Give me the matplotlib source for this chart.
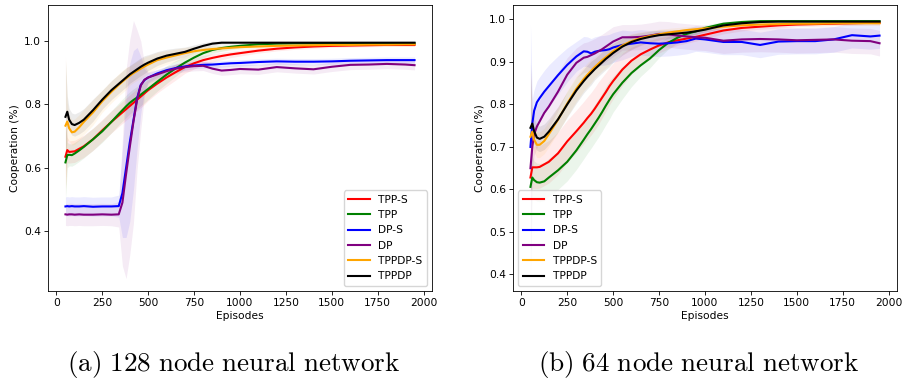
import matplotlib
matplotlib.use("Agg")
import matplotlib.pyplot as plt
import numpy as np

plt.rcParams['mathtext.fontset'] = 'cm'

episodes = [50, 60, 70, 85, 100, 125, 150, 200, 250, 300, 340, 360, 380, 400, 420, 440, 460, 480,
            500, 550, 600, 650, 700, 750, 800, 850, 900, 950, 1000, 1100, 1200, 1300, 1400, 1500,
            1600, 1700, 1800, 1900, 1950]

labels = ["TPP-S", "TPP", "DP-S", "DP", "TPPDP-S", "TPPDP"]
colors = ["red", "green", "blue", "purple", "orange", "black"]

# ---- (a) 128 node network: means ----
a_tpps = [0.635, 0.656, 0.650, 0.651, 0.652, 0.660, 0.668, 0.690, 0.718, 0.745, 0.765, 0.775, 0.785,
          0.795, 0.805, 0.815, 0.825, 0.835, 0.845, 0.866, 0.885, 0.902, 0.918, 0.930, 0.940, 0.947,
          0.953, 0.958, 0.962, 0.970, 0.976, 0.980, 0.983, 0.985, 0.986, 0.987, 0.988, 0.988, 0.988]
a_tpp = [0.617, 0.640, 0.641, 0.640, 0.645, 0.655, 0.666, 0.690, 0.715, 0.745, 0.770, 0.782, 0.794,
         0.805, 0.814, 0.822, 0.831, 0.840, 0.849, 0.872, 0.894, 0.914, 0.932, 0.948, 0.962, 0.972,
         0.978, 0.982, 0.985, 0.990, 0.992, 0.993, 0.993, 0.993, 0.993, 0.993, 0.993, 0.993, 0.993]
a_dps = [0.478, 0.479, 0.478, 0.479, 0.478, 0.478, 0.479, 0.477, 0.478, 0.478, 0.479, 0.520, 0.600,
         0.680, 0.750, 0.820, 0.862, 0.877, 0.885, 0.898, 0.908, 0.915, 0.920, 0.923, 0.925, 0.926,
         0.928, 0.930, 0.931, 0.934, 0.936, 0.935, 0.935, 0.936, 0.938, 0.939, 0.940, 0.940, 0.940]
a_dp = [0.453, 0.452, 0.453, 0.453, 0.452, 0.453, 0.452, 0.452, 0.453, 0.452, 0.453, 0.490, 0.580,
        0.665, 0.745, 0.815, 0.860, 0.878, 0.885, 0.895, 0.905, 0.913, 0.918, 0.921, 0.922, 0.913,
        0.907, 0.909, 0.912, 0.910, 0.918, 0.914, 0.911, 0.919, 0.925, 0.926, 0.928, 0.926, 0.924]
a_tppdps = [0.733, 0.746, 0.725, 0.712, 0.714, 0.728, 0.745, 0.775, 0.810, 0.840, 0.862, 0.872, 0.882,
            0.891, 0.899, 0.906, 0.913, 0.920, 0.926, 0.940, 0.948, 0.955, 0.962, 0.968, 0.972, 0.975,
            0.977, 0.979, 0.981, 0.983, 0.985, 0.986, 0.987, 0.988, 0.988, 0.989, 0.989, 0.990, 0.990]
a_tppdp = [0.761, 0.777, 0.752, 0.738, 0.735, 0.742, 0.752, 0.782, 0.815, 0.845, 0.865, 0.875, 0.885,
           0.895, 0.903, 0.911, 0.919, 0.926, 0.932, 0.945, 0.954, 0.960, 0.966, 0.976, 0.985, 0.992,
           0.995, 0.995, 0.995, 0.995, 0.995, 0.995, 0.995, 0.995, 0.995, 0.995, 0.995, 0.995, 0.995]

# ---- (a) standard deviations ----
a_tpps_sd = [0.10, 0.04, 0.035, 0.035, 0.035, 0.035, 0.035, 0.035, 0.035, 0.035, 0.035, 0.035, 0.035,
             0.035, 0.035, 0.035, 0.035, 0.035, 0.033, 0.03, 0.028, 0.025, 0.02, 0.018, 0.015, 0.013,
             0.012, 0.01, 0.009, 0.008, 0.007, 0.006, 0.006, 0.005, 0.005, 0.005, 0.005, 0.005, 0.005]
a_tpp_sd = [0.12, 0.04, 0.035, 0.035, 0.035, 0.035, 0.035, 0.035, 0.035, 0.035, 0.035, 0.035, 0.035,
            0.035, 0.035, 0.035, 0.035, 0.035, 0.033, 0.03, 0.028, 0.025, 0.02, 0.018, 0.015, 0.012,
            0.01, 0.008, 0.007, 0.006, 0.005, 0.005, 0.005, 0.005, 0.005, 0.005, 0.005, 0.005, 0.005]
a_dps_sd = [0.03, 0.03, 0.03, 0.03, 0.03, 0.03, 0.03, 0.03, 0.03, 0.03, 0.035, 0.14, 0.22,
            0.25, 0.22, 0.16, 0.09, 0.035, 0.015, 0.012, 0.012, 0.012, 0.012, 0.01, 0.01, 0.01,
            0.01, 0.01, 0.01, 0.01, 0.01, 0.01, 0.01, 0.01, 0.01, 0.01, 0.01, 0.01, 0.01]
a_dp_sd = [0.035, 0.035, 0.035, 0.035, 0.035, 0.035, 0.035, 0.035, 0.035, 0.035, 0.04, 0.20, 0.33,
           0.34, 0.32, 0.22, 0.14, 0.05, 0.018, 0.015, 0.015, 0.015, 0.015, 0.015, 0.015, 0.015,
           0.015, 0.015, 0.015, 0.015, 0.015, 0.015, 0.015, 0.015, 0.015, 0.015, 0.015, 0.015, 0.015]
a_tppdps_sd = [0.22, 0.06, 0.04, 0.04, 0.04, 0.04, 0.04, 0.04, 0.035, 0.035, 0.035, 0.035, 0.035,
               0.03, 0.03, 0.03, 0.03, 0.03, 0.028, 0.025, 0.022, 0.02, 0.018, 0.015, 0.012, 0.01,
               0.009, 0.008, 0.007, 0.006, 0.006, 0.006, 0.006, 0.006, 0.006, 0.006, 0.006, 0.006, 0.006]
a_tppdp_sd = [0.18, 0.05, 0.035, 0.035, 0.035, 0.035, 0.035, 0.035, 0.03, 0.03, 0.03, 0.03, 0.03,
              0.028, 0.028, 0.028, 0.028, 0.028, 0.025, 0.022, 0.02, 0.018, 0.015, 0.012, 0.01, 0.008,
              0.005, 0.004, 0.004, 0.004, 0.004, 0.004, 0.004, 0.004, 0.004, 0.004, 0.004, 0.004, 0.004]

# ---- (b) 64 node network: means ----
b_tpps = [0.628, 0.652, 0.652, 0.652, 0.653, 0.659, 0.665, 0.685, 0.713, 0.737, 0.757, 0.768, 0.778,
          0.790, 0.803, 0.816, 0.829, 0.843, 0.855, 0.882, 0.903, 0.918, 0.929, 0.939, 0.946, 0.951,
          0.955, 0.959, 0.964, 0.974, 0.980, 0.983, 0.986, 0.988, 0.989, 0.990, 0.991, 0.992, 0.992]
b_tpp = [0.606, 0.628, 0.622, 0.617, 0.616, 0.619, 0.628, 0.645, 0.665, 0.692, 0.717, 0.730, 0.742,
         0.755, 0.768, 0.782, 0.797, 0.811, 0.824, 0.851, 0.874, 0.892, 0.908, 0.928, 0.945, 0.957,
         0.966, 0.972, 0.980, 0.990, 0.994, 0.996, 0.996, 0.996, 0.996, 0.996, 0.996, 0.996, 0.996]
b_dps = [0.700, 0.755, 0.785, 0.805, 0.815, 0.830, 0.843, 0.869, 0.893, 0.913, 0.925, 0.924, 0.920,
         0.924, 0.926, 0.927, 0.928, 0.930, 0.934, 0.940, 0.943, 0.946, 0.944, 0.943, 0.944, 0.946,
         0.949, 0.955, 0.953, 0.947, 0.947, 0.940, 0.948, 0.949, 0.949, 0.953, 0.963, 0.960, 0.962]
b_dp = [0.650, 0.700, 0.730, 0.748, 0.760, 0.780, 0.795, 0.830, 0.870, 0.898, 0.910, 0.912, 0.916,
        0.920, 0.925, 0.930, 0.936, 0.942, 0.948, 0.958, 0.958, 0.959, 0.962, 0.966, 0.965, 0.962,
        0.960, 0.958, 0.957, 0.950, 0.953, 0.954, 0.953, 0.951, 0.952, 0.953, 0.950, 0.949, 0.944]
b_tppdps = [0.724, 0.736, 0.717, 0.705, 0.705, 0.714, 0.730, 0.764, 0.802, 0.837, 0.860, 0.870, 0.879,
            0.888, 0.896, 0.904, 0.911, 0.918, 0.925, 0.939, 0.949, 0.956, 0.961, 0.965, 0.969, 0.972,
            0.975, 0.977, 0.979, 0.983, 0.986, 0.988, 0.989, 0.990, 0.990, 0.991, 0.991, 0.991, 0.991]
b_tppdp = [0.745, 0.755, 0.737, 0.722, 0.719, 0.724, 0.736, 0.765, 0.800, 0.833, 0.855, 0.865, 0.874,
           0.883, 0.891, 0.899, 0.907, 0.914, 0.921, 0.936, 0.947, 0.954, 0.959, 0.963, 0.965, 0.967,
           0.969, 0.972, 0.976, 0.986, 0.991, 0.994, 0.995, 0.995, 0.995, 0.995, 0.995, 0.995, 0.995]

# ---- (b) standard deviations ----
b_tpps_sd = [0.12, 0.05, 0.05, 0.05, 0.05, 0.05, 0.05, 0.05, 0.05, 0.05, 0.05, 0.05, 0.05,
             0.05, 0.05, 0.048, 0.046, 0.044, 0.042, 0.038, 0.032, 0.026, 0.022, 0.018, 0.015, 0.012,
             0.011, 0.01, 0.009, 0.008, 0.007, 0.006, 0.006, 0.005, 0.005, 0.005, 0.005, 0.005, 0.005]
b_tpp_sd = [0.20, 0.05, 0.045, 0.045, 0.045, 0.045, 0.045, 0.045, 0.045, 0.045, 0.045, 0.045, 0.045,
            0.045, 0.045, 0.045, 0.045, 0.045, 0.042, 0.038, 0.032, 0.026, 0.022, 0.018, 0.015, 0.012,
            0.01, 0.008, 0.007, 0.005, 0.004, 0.004, 0.004, 0.004, 0.004, 0.004, 0.004, 0.004, 0.004]
b_dps_sd = [0.29, 0.06, 0.05, 0.05, 0.05, 0.05, 0.05, 0.045, 0.04, 0.035, 0.035, 0.035, 0.035,
            0.035, 0.035, 0.035, 0.035, 0.035, 0.035, 0.035, 0.03, 0.03, 0.03, 0.03, 0.03, 0.03,
            0.03, 0.03, 0.03, 0.03, 0.03, 0.03, 0.03, 0.03, 0.03, 0.03, 0.03, 0.03, 0.03]
b_dp_sd = [0.25, 0.06, 0.05, 0.05, 0.05, 0.05, 0.05, 0.045, 0.04, 0.035, 0.035, 0.035, 0.035,
           0.035, 0.035, 0.035, 0.035, 0.035, 0.035, 0.03, 0.03, 0.03, 0.03, 0.03, 0.03, 0.03,
           0.03, 0.03, 0.03, 0.03, 0.03, 0.03, 0.03, 0.03, 0.03, 0.03, 0.03, 0.03, 0.03]
b_tppdps_sd = [0.15, 0.04, 0.03, 0.03, 0.03, 0.03, 0.03, 0.03, 0.03, 0.03, 0.028, 0.028, 0.028,
               0.025, 0.025, 0.025, 0.025, 0.025, 0.022, 0.02, 0.018, 0.015, 0.013, 0.012, 0.01, 0.009,
               0.008, 0.007, 0.006, 0.005, 0.005, 0.005, 0.005, 0.005, 0.005, 0.005, 0.005, 0.005, 0.005]
b_tppdp_sd = [0.15, 0.04, 0.03, 0.03, 0.03, 0.03, 0.03, 0.03, 0.03, 0.03, 0.028, 0.028, 0.028,
              0.025, 0.025, 0.025, 0.025, 0.025, 0.022, 0.02, 0.018, 0.015, 0.013, 0.012, 0.01, 0.009,
              0.008, 0.007, 0.006, 0.005, 0.004, 0.004, 0.004, 0.004, 0.004, 0.004, 0.004, 0.004, 0.004]

panel_a = [(a_tpps, a_tpps_sd), (a_tpp, a_tpp_sd), (a_dps, a_dps_sd), (a_dp, a_dp_sd),
           (a_tppdps, a_tppdps_sd), (a_tppdp, a_tppdp_sd)]
panel_b = [(b_tpps, b_tpps_sd), (b_tpp, b_tpp_sd), (b_dps, b_dps_sd), (b_dp, b_dp_sd),
           (b_tppdps, b_tppdps_sd), (b_tppdp, b_tppdp_sd)]

FS = 7.7
fig = plt.figure(figsize=(9.05, 3.82), dpi=100)
W, H = 905.0, 382.0
ax1 = fig.add_axes([48 / W, 91 / H, 384 / W, 286 / H])
ax2 = fig.add_axes([513 / W, 91 / H, 384 / W, 286 / H])

x = np.array(episodes)
for ax, panel in ((ax1, panel_a), (ax2, panel_b)):
    for (m, s), c, lab in zip(panel, colors, labels):
        m = np.array(m)
        s = np.array(s)
        ax.fill_between(x, m - s, m + s, color=c, alpha=0.08, linewidth=0)
        ax.plot(x, m, color=c, lw=1.5, label=lab)
    ax.set_xlim(-45, 2045)
    ax.set_xticks([0, 250, 500, 750, 1000, 1250, 1500, 1750, 2000])
    ax.set_xlabel("Episodes", fontsize=FS, labelpad=2)
    ax.set_ylabel("Cooperation (%)", fontsize=FS, labelpad=3)
    ax.tick_params(labelsize=FS, width=0.6, length=2.7, pad=2.5)
    for sp in ax.spines.values():
        sp.set_linewidth(0.6)

ax1.set_ylim(0.211, 1.114)
ax1.set_yticks([0.4, 0.6, 0.8, 1.0])
ax2.set_ylim(0.361, 1.034)
ax2.set_yticks([0.4, 0.5, 0.6, 0.7, 0.8, 0.9, 1.0])

leg_kw = dict(fontsize=FS, framealpha=0.8, edgecolor="0.8")
ax1.legend(loc="lower right", **leg_kw)
ax2.legend(loc="lower left", **leg_kw)

fig.text(234 / W, 17 / H, r"$\mathrm{(a)\ 128\ node\ neural\ network}$", ha="center", va="center", fontsize=19.5)
fig.text(699 / W, 17 / H, r"$\mathrm{(b)\ 64\ node\ neural\ network}$", ha="center", va="center", fontsize=19.5)

fig.savefig("out.png", dpi=100)
